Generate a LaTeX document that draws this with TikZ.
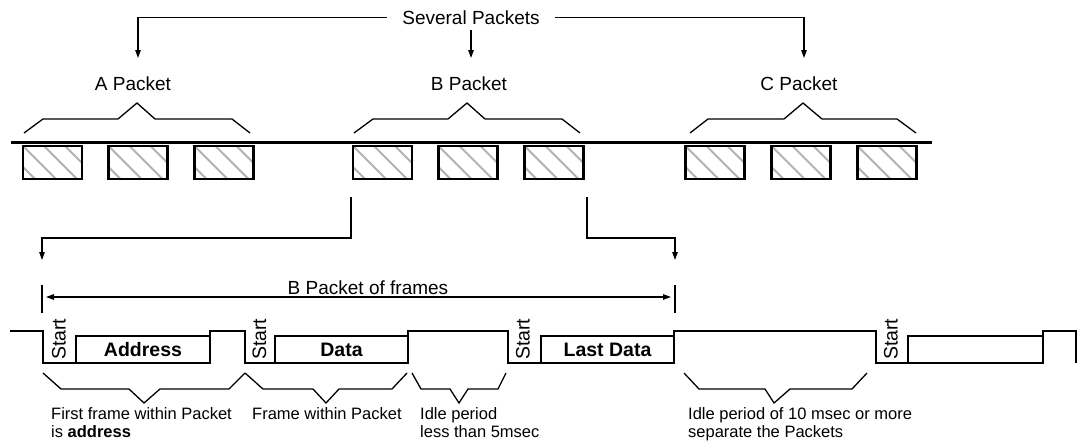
\documentclass[tikz,border=0pt]{standalone}
\usepackage{fontspec}
\setmainfont{Liberation Sans}
\usetikzlibrary{arrows.meta,calc}
\begin{document}
\begin{tikzpicture}[x=1pt,y=-1pt,
 thinl/.style={line width=1.2pt},
 arr/.style={thinl,-{Triangle[length=8pt,width=5.5pt]}},
 dbl/.style={thinl,{Triangle[length=8pt,width=5.5pt]}-{Triangle[length=8pt,width=5.5pt]}},
 brace/.style={line width=1.3pt,line join=miter},
 big/.style={font=\fontsize{19}{22}\selectfont, inner sep=0pt},
 small/.style={font=\fontsize{16.5}{18}\selectfont, inner sep=0pt, align=left, anchor=north west},
 hatch/.style={draw, line width=2.4pt, minimum width=59pt, minimum height=33pt, inner sep=0pt,
   path picture={\foreach \o in {-21,0,21,42} \draw[line width=2pt, draw=black!30]
     ([xshift=\o pt]path picture bounding box.north west) -- ++(40pt,-40pt);}},
 wave/.style={line width=2.7pt,line join=miter},
 framebox/.style={draw, line width=2.7pt, inner sep=0pt, minimum height=27pt, font=\bfseries\fontsize{19.5}{22}\selectfont},
 startlbl/.style={rotate=90, anchor=base west, inner sep=0pt, font=\fontsize{19.5}{22}\selectfont}
]
\useasboundingbox (0,0) rectangle (1079,447);

% top labels
\node[big, anchor=base] (several) at (471,24) {Several Packets};
\node[big, anchor=base] (apk) at (133,90) {A Packet};
\node[big, anchor=base] (bpk) at (469,90) {B Packet};
\node[big, anchor=base] (cpk) at (799,90) {C Packet};

\coordinate (ta) at (138,58);
\coordinate (tb) at (471,58);
\coordinate (tc) at (804,58);
\draw[arr, shorten <=15pt] (several.west) -| (ta);
\draw[arr, shorten <=15pt] (several.east) -| (tc);
\draw[arr, shorten <=6pt] (several.south) -- (tb);

% braces over packets
\draw[brace] (24,133) -- (43,119) -- (118,119) -- (137,103) -- (155,119) -- (232,119) -- (250,133);
\draw[brace] (354,133) -- (373,119) -- (448,119) -- (467,103) -- (485,119) -- (562,119) -- (580,133);
\draw[brace] (690,133) -- (708,119) -- (784,119) -- (803,103) -- (822,119) -- (897,119) -- (916,133);

% bus line
\coordinate (busl) at (11,142);
\coordinate (busr) at (932,142);
\draw[line width=3pt] (busl) -- (busr);

% hatched frames
\node[hatch] (a1) at (52.5,162.5) {};
\node[hatch] (a2) at (138,162.5) {};
\node[hatch] (a3) at (224,162.5) {};
\node[hatch] (b1) at (382.5,162.5) {};
\node[hatch] (b2) at (468,162.5) {};
\node[hatch] (b3) at (554,162.5) {};
\node[hatch] (c1) at (715,162.5) {};
\node[hatch] (c2) at (801,162.5) {};
\node[hatch] (c3) at (887,162.5) {};

% zoom connectors
\coordinate (d1) at (351,197);
\coordinate (d1c) at (42,238);
\coordinate (d1e) at (42,260);
\coordinate (d2) at (587,197);
\coordinate (d2c) at (675,238);
\coordinate (d2e) at (675,260);
\draw[arr] (d1) |- (d1c) -- (d1e);
\draw[arr] (d2) |- (d2c) -- (d2e);

% ticks and span arrow
\coordinate (k1a) at (42,285);
\coordinate (k1b) at (42,313);
\coordinate (k2a) at (675,285);
\coordinate (k2b) at (675,313);
\draw[thinl] (k1a) -- (k1b);
\draw[thinl] (k2a) -- (k2b);
\coordinate (m1) at (42,297);
\coordinate (m2) at (675,297);
\draw[dbl, shorten <=4pt, shorten >=4pt] (m1) -- (m2);
\node[big, anchor=base] (span) at (368,294) {B Packet of frames};

% waveform
\draw[wave] (10,331) -- (43,331) -- (43,363) -- (210,363) -- (210,331) -- (245,331) -- (245,363)
  -- (408,363) -- (408,331) -- (508,331) -- (508,363) -- (674,363) -- (674,331) -- (876,331)
  -- (876,363) -- (1043,363) -- (1043,331) -- (1076,331) -- (1076,363);
\node[framebox, minimum width=134pt] (addr) at (143,349.5) {Address};
\node[framebox, minimum width=133pt] (data) at (341.5,349.5) {Data};
\node[framebox, minimum width=133pt] (last) at (607.5,349.5) {Last Data};
\node[framebox, minimum width=135pt] (next) at (975.5,349.5) {};
\node[startlbl] (s1) at (65.5,360) {Start};
\node[startlbl] (s2) at (266,360) {Start};
\node[startlbl] (s3) at (529.5,360) {Start};
\node[startlbl] (s4) at (897.5,360) {Start};

% braces under waveform
\draw[brace] (43,373) -- (61,389) -- (129,389) -- (144,403) -- (160,389) -- (229,389) -- (245,373);
\draw[brace] (245,373) -- (263,389) -- (313,389) -- (326,403) -- (339,389) -- (392,389) -- (407,373);
\draw[brace] (412,373) -- (421,389) -- (450,389) -- (459,403) -- (468,389) -- (498,389) -- (506,373);
\draw[brace] (684,373) -- (699,389) -- (765,389) -- (774,403) -- (790,389) -- (852,389) -- (867,373);

% bottom labels
\node[small] (t1) at (51,407) {First frame within Packet\\is \textbf{address}};
\node[small] (t2) at (252,407) {Frame within Packet};
\node[small] (t3) at (420,407) {Idle period\\less than 5msec};
\node[small] (t4) at (688,407) {Idle period of 10 msec or more\\separate the Packets};
\end{tikzpicture}
\end{document}
